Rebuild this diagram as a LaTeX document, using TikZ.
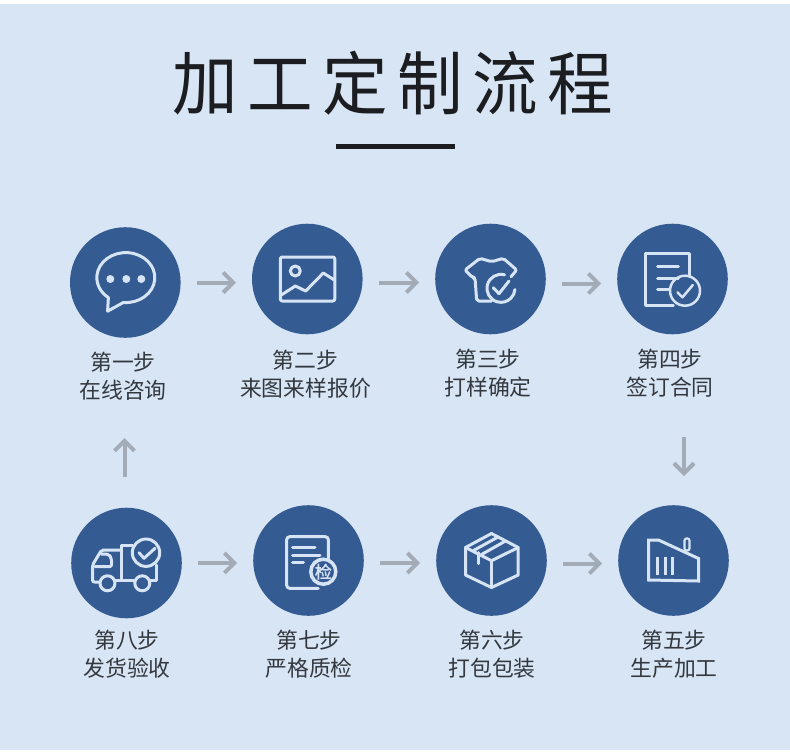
\documentclass[tikz,border=0pt]{standalone}
\usepackage{fontspec}
\setmainfont{Noto Sans CJK SC}
\usetikzlibrary{positioning, arrows.meta}
\definecolor{pagebg}{HTML}{D8E5F5}
\definecolor{discblue}{HTML}{345B92}
\definecolor{iconline}{HTML}{D6E4F5}
\definecolor{flowgray}{HTML}{A3ABB6}
\definecolor{inkblack}{HTML}{1C1D21}
\definecolor{labelgray}{HTML}{33383F}

\begin{document}
\begin{tikzpicture}[
        x=1pt, y=-1pt,
        disc/.style={circle, fill=discblue, minimum size=110.6pt, inner sep=0pt, outer sep=0pt},
        steptext/.style={text=labelgray, align=center, font=\fontsize{21.8pt}{28pt}\selectfont, inner sep=0pt},
        flow/.style={draw=flowgray, line width=4pt, -{Straight Barb[length=10pt, width=20pt, line width=4pt]}, shorten <=16pt, shorten >=16pt},
        flowbare/.style={flow, shorten <=0pt, shorten >=0pt},
        icon/.style={draw=iconline, line width=3pt, line join=round, line cap=round},
    ]
    \useasboundingbox (0,0) rectangle (790,753);
    \fill[pagebg] (0,4) rectangle (790,750);

    % Title
    \node[text=inkblack, font=\fontsize{69pt}{73pt}\selectfont\addfontfeature{LetterSpace=14.5}, inner sep=0pt, xscale=0.95, transform shape] (title) at (393,83) {加工定制流程};
    \node[fill=inkblack, minimum width=119pt, minimum height=5pt, inner sep=0pt] (titlebar) at (395.5,146) {};

    % Row 1
    \node[disc] (c1) at (125.3,282.5) {};
    \node[disc] (c2) at (307.3,279) {};
    \node[disc] (c3) at (490.5,279) {};
    \node[disc] (c4) at (672.5,279) {};
    \node[steptext] (l1) at (123,376) {第一步\\在线咨询};
    \node[steptext] (l2) at (305.5,374) {第二步\\来图来样报价};
    \node[steptext] (l3) at (488,373) {第三步\\打样确定};
    \node[steptext] (l4) at (670,373) {第四步\\签订合同};

    % Row 2
    \node[disc] (c8) at (126.5,563) {};
    \node[disc] (c7) at (308.5,560.5) {};
    \node[disc] (c6) at (491.5,560.5) {};
    \node[disc] (c5) at (673.5,560.5) {};
    \node[steptext] (l8) at (127,654) {第八步\\发货验收};
    \node[steptext] (l7) at (309,654) {第七步\\严格质检};
    \node[steptext] (l6) at (492,654) {第六步\\打包包装};
    \node[steptext] (l5) at (674,654) {第五步\\生产加工};

    % Arrows
    \draw[flow] (c1.east) -- ([yshift=-3.5pt]c2.west);
    \draw[flow] ([yshift=-3.5pt]c2.east) -- ([yshift=-3.5pt]c3.west);
    \draw[flow] ([yshift=-4.5pt]c3.east) -- ([yshift=-4.5pt]c4.west);
    \draw[flow] (c8.east) -- ([yshift=-2.5pt]c7.west);
    \draw[flow] ([yshift=-2.5pt]c7.east) -- ([yshift=-2.5pt]c6.west);
    \draw[flow] ([yshift=-3pt]c6.east) -- ([yshift=-3pt]c5.west);
    \coordinate (upfrom) at (124.5,477);
    \coordinate (upto) at (124.5,438);
    \coordinate (downfrom) at (684,437);
    \coordinate (downto) at (684,476);
    \draw[flowbare] (upfrom) -- (upto);
    \draw[flowbare] (downfrom) -- (downto);

    % Speech bubble
    \begin{scope}[shift={(c1.center)}]
        \draw[icon] (-2,20) arc[start angle=265, end angle=593, x radius=29pt, y radius=25pt] -- (-17.7,28.7) -- cycle;
        \fill[iconline] (-15,-3.5) circle[radius=4pt] (1,-3.5) circle[radius=4pt] (16,-3.5) circle[radius=4pt];
    \end{scope}

    % Picture
    \begin{scope}[shift={(c2.center)}]
        \draw[icon, rounded corners=2pt] (-27,-22) rectangle (27.5,22);
        \draw[icon] (-12,-8) circle[radius=5pt];
        \draw[icon] (-26,16) -- (-12,7) -- (-1.6,12) -- (16,-6) -- (27,1);
    \end{scope}

    % Shirt
    \begin{scope}[shift={(c3.center)}]
        \draw[icon, rounded corners=2pt] (1.2,22) -- (-13.8,22) -- (-15.5,-1.3) -- (-18,-1.5) -- (-25.5,-9) -- (-10.5,-20.7) -- (1.2,-17.3) -- (12.8,-20.7) -- (26.2,-9) -- (20.5,-2.3);
        \draw[icon] (14.1,-4.2) arc[start angle=75, end angle=355, radius=14pt];
        \draw[icon] (2.8,8.7) -- (8.5,14.7) -- (18.5,2);
    \end{scope}

    % Contract
    \begin{scope}[shift={(c4.center)}]
        \draw[icon] (0.8,26) -- (-27,26) -- (-27,-25.7) -- (16.5,-25.7) -- (16.5,-2.3);
        \draw[icon] (-15,-12.3) -- (5.8,-12.3);
        \draw[icon] (-15,-0.7) -- (5.8,-0.7);
        \draw[icon] (-15,10.3) -- (-4,10.3);
        \draw[icon, line width=2.5pt] (12.5,11.7) circle[radius=15pt];
        \draw[icon, line width=2.5pt] (5,13.3) -- (10,18.3) -- (20.3,6);
    \end{scope}

    % Factory
    \begin{scope}[shift={(c5.center)}]
        \draw[icon, line join=miter] (-25,19.5) -- (-25,-20.5) -- (-15,-20.5) -- (25,-2) -- (25,20.5) -- cycle;
        \draw[icon, line width=2.2pt, rounded corners=2pt] (11,-10) rectangle (16,-22);
        \draw[icon, line cap=butt] (-16,-3.8) -- (-16,14.5);
        \draw[icon, line cap=butt] (-8.5,-3.8) -- (-8.5,14.5);
        \draw[icon, line cap=butt] (-1.2,-3.8) -- (-1.2,14.5);
    \end{scope}

    % Parcel
    \begin{scope}[shift={(c6.center)}]
        \draw[icon] (0,-27) -- (26.7,-13) -- (26.7,14.5) -- (0,27) -- (-26,14.5) -- (-26,-13) -- cycle;
        \draw[icon] (-26,-13) -- (0,0.2) -- (26.7,-13);
        \draw[icon] (0,0.2) -- (0,27);
        \draw[icon] (6.5,-23.5) -- (-18,-10);
        \draw[icon] (14,-19.5) -- (-10,-6);
        \draw[icon] (-13,-8) -- (-13,3);
    \end{scope}

    % Inspection sheet
    \begin{scope}[shift={(c7.center)}]
        \draw[icon, rounded corners=3pt] (9.8,27.8) -- (-21.8,27.8) -- (-21.8,-23.8) -- (19.8,-23.8) -- (19.8,-2);
        \draw[icon] (-16,-13) -- (6.5,-13);
        \draw[icon] (-16,-5.5) -- (11.5,-5.5);
        \draw[icon] (-16,2.2) -- (-5,2.2);
        \node[circle, draw=iconline, line width=3.5pt, fill=discblue, minimum size=25pt, inner sep=0pt, text=iconline, font=\fontsize{17pt}{17pt}\selectfont\addfontfeature{FakeBold=1.5}] (checkseal) at (14.8,11.2) {检};
    \end{scope}

    % Truck
    \begin{scope}[shift={(c8.center)}]
        \draw[icon] (19.5,-10.3) circle[radius=13.7pt];
        \draw[icon] (12.5,-10.3) -- (17.5,-4.7) -- (28.5,-14.7);
        \draw[icon] (6,-18) -- (-4.8,-18) -- (-4.8,17);
        \draw[icon] (29.5,2) -- (29.5,17) -- (23.5,17);
        \draw[icon] (-11.5,17) -- (8.5,17);
        \draw[icon, rounded corners=2pt] (-4.8,-13) -- (-25,-13) -- (-34,2) -- (-34,19) -- (-26.5,19);
        \draw[icon, rounded corners=2pt] (-31.5,3.7) -- (-15,3.7) -- (-15,-4.7) -- (-18,-9) -- (-25,-9);
        \draw[icon] (-19,20.3) circle[radius=7.5pt];
        \draw[icon] (15.8,20.3) circle[radius=7.5pt];
    \end{scope}
\end{tikzpicture}
\end{document}
